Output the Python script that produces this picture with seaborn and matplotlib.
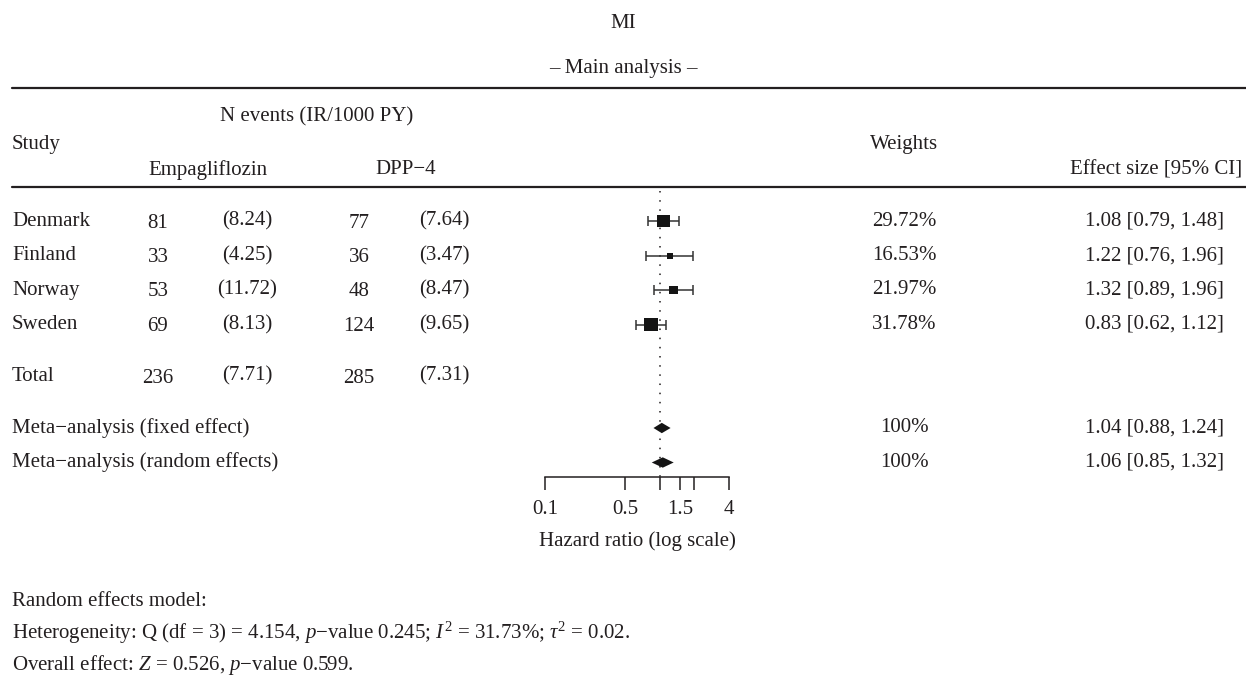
import numpy as np
import pandas as pd
import matplotlib
matplotlib.use("Agg")
import matplotlib.pyplot as plt
import seaborn as sns

# ---------------- data ----------------
studies = ["Denmark", "Finland", "Norway", "Sweden"]
empa_n = [81, 33, 53, 69]
empa_ir = ["(8.24)", "(4.25)", "(11.72)", "(8.13)"]
dpp_n = [77, 36, 48, 124]
dpp_ir = ["(7.64)", "(3.47)", "(8.47)", "(9.65)"]
weights = [29.72, 16.53, 21.97, 31.78]
hr = [1.08, 1.22, 1.32, 0.83]
hr_lo = [0.79, 0.76, 0.89, 0.62]
hr_hi = [1.48, 1.96, 1.96, 1.12]

total_empa = ["236", "(7.71)"]
total_dpp = ["285", "(7.31)"]

meta_labels = ["Meta\u2212analysis (fixed effect)", "Meta\u2212analysis (random effects)"]
meta_w = ["100%", "100%"]
meta_hr = [1.04, 1.06]
meta_lo = [0.88, 0.85]
meta_hi = [1.24, 1.32]

xticks = [0.1, 0.5, 1, 1.5, 2, 4]
xticklabels = ["0.1", "0.5", "", "1.5", "", "4"]

# ---------------- style ----------------
sns.set_theme(style="white")
plt.rcParams["font.family"] = ["Liberation Serif", "DejaVu Serif"]
plt.rcParams["mathtext.fontset"] = "custom"
plt.rcParams["mathtext.rm"] = "Liberation Serif"
plt.rcParams["mathtext.it"] = "Liberation Serif:italic"
plt.rcParams["axes.unicode_minus"] = True
FS = 15
TC = "#231f20"

W, H = 1246, 692
fig = plt.figure(figsize=(W / 100, H / 100), dpi=100)
fig.patch.set_facecolor("white")

# text layer in pixel coordinates
tx = fig.add_axes([0, 0, 1, 1])
tx.set_xlim(0, W)
tx.set_ylim(H, 0)
tx.axis("off")

# row layout
ROW0, DY = 221, 34.5
rows = [0, 1, 2, 3]
row_total = 4.5
row_meta = [6, 7]
def ypx(r):
    return ROW0 + DY * r

def t(x, y, s, ha="left", **kw):
    tx.text(x, y, s, ha=ha, va="center", fontsize=FS, color=TC, **kw)

# header
t(623, 23, "MI", ha="center")
t(623, 68, "\u2013 Main analysis \u2013", ha="center")
tx.plot([12, W], [88, 88], color=TC, lw=1.6)
t(220, 117, "N events (IR/1000 PY)")
t(12, 145, "Study")
t(904, 145, "Weights", ha="center")
t(208, 170, "Empagliflozin", ha="center")
t(406, 170, "DPP\u22124", ha="center")
t(1242, 170, "Effect size [95% CI]", ha="right")
tx.plot([12, W], [187, 187], color=TC, lw=1.6)

# study rows
for i, r in enumerate(rows):
    y = ypx(r)
    t(12, y, studies[i])
    t(158, y + 2, str(empa_n[i]), ha="center")
    t(247, y, empa_ir[i], ha="center")
    t(359, y + 2, str(dpp_n[i]), ha="center")
    t(444, y, dpp_ir[i], ha="center")
    t(904, y, f"{weights[i]:.2f}%", ha="center")
    t(1224, y, f"{hr[i]:.2f} [{hr_lo[i]:.2f}, {hr_hi[i]:.2f}]", ha="right")

y = ypx(row_total)
t(12, y, "Total")
t(158, y + 2, total_empa[0], ha="center")
t(247, y, total_empa[1], ha="center")
t(359, y + 2, total_dpp[0], ha="center")
t(444, y, total_dpp[1], ha="center")

for i, r in enumerate(row_meta):
    y = ypx(r)
    t(12, y, meta_labels[i])
    t(904, y, meta_w[i], ha="center")
    t(1224, y, f"{meta_hr[i]:.2f} [{meta_lo[i]:.2f}, {meta_hi[i]:.2f}]", ha="right")

# footnotes
t(12, 601, "Random effects model:")
t(12, 633, "Heterogeneity: Q (df = 3) = 4.154, $p$\u2212value 0.245; $I^2$ = 31.73%; $\\tau^2$ = 0.02.")
t(12, 665, "Overall effect: $Z$ = 0.526, $p$\u2212value 0.599.")

# ---------------- forest axes ----------------
X0, X1 = 545, 729
YT, YB = 187, 477
ax = fig.add_axes([X0 / W, 1 - YB / H, (X1 - X0) / W, (YB - YT) / H])
ax.set_xscale("log")
ax.set_xlim(0.1, 4)
ax.set_ylim((YB - ROW0) / DY, (YT - ROW0) / DY)
ax.patch.set_alpha(0)
for s in ["top", "left", "right"]:
    ax.spines[s].set_visible(False)
ax.spines["bottom"].set_color(TC)
ax.spines["bottom"].set_linewidth(1.1)
ax.set_yticks([])
ax.set_xticks(xticks)
ax.set_xticklabels(xticklabels)
ax.xaxis.set_minor_locator(matplotlib.ticker.NullLocator())
ax.tick_params(axis="x", direction="out", length=9.5, width=1.1, color=TC,
               labelsize=FS, labelcolor=TC, pad=7, bottom=True)

# reference line
ax.plot([1, 1], [(YT + 4 - ROW0) / DY, (YB - ROW0) / DY], color=TC, lw=1.1,
        linestyle=(0, (1, 5)), zorder=1)

df = pd.DataFrame({"study": studies, "hr": hr, "lo": hr_lo, "hi": hr_hi,
                   "w": weights, "row": rows})
# confidence intervals
ax.errorbar(df["hr"], df["row"],
            xerr=[df["hr"] - df["lo"], df["hi"] - df["hr"]],
            fmt="none", ecolor="#333333", elinewidth=1.1, capsize=3.5,
            capthick=1.1, zorder=2)
# squares sized by weight
side = 6 + 0.52 * (df["w"] - min(weights))  # px
df["s"] = (side * 0.72) ** 2
sns.scatterplot(data=df, x="hr", y="row", size="s", sizes=(df["s"].min(), df["s"].max()),
                marker="s", color="#141414", edgecolor="none", legend=False,
                ax=ax, zorder=3)
ax.set_xlabel("Hazard ratio (log scale)", fontsize=FS, color=TC, labelpad=9)
ax.set_ylabel("")

# diamonds
hh = 0.15
for i, r in enumerate(row_meta):
    ax.fill([meta_lo[i], meta_hr[i], meta_hi[i], meta_hr[i]],
            [r, r - hh, r, r + hh], color="#141414", zorder=3, lw=0)

fig.savefig("out.png", dpi=100, facecolor="white")
